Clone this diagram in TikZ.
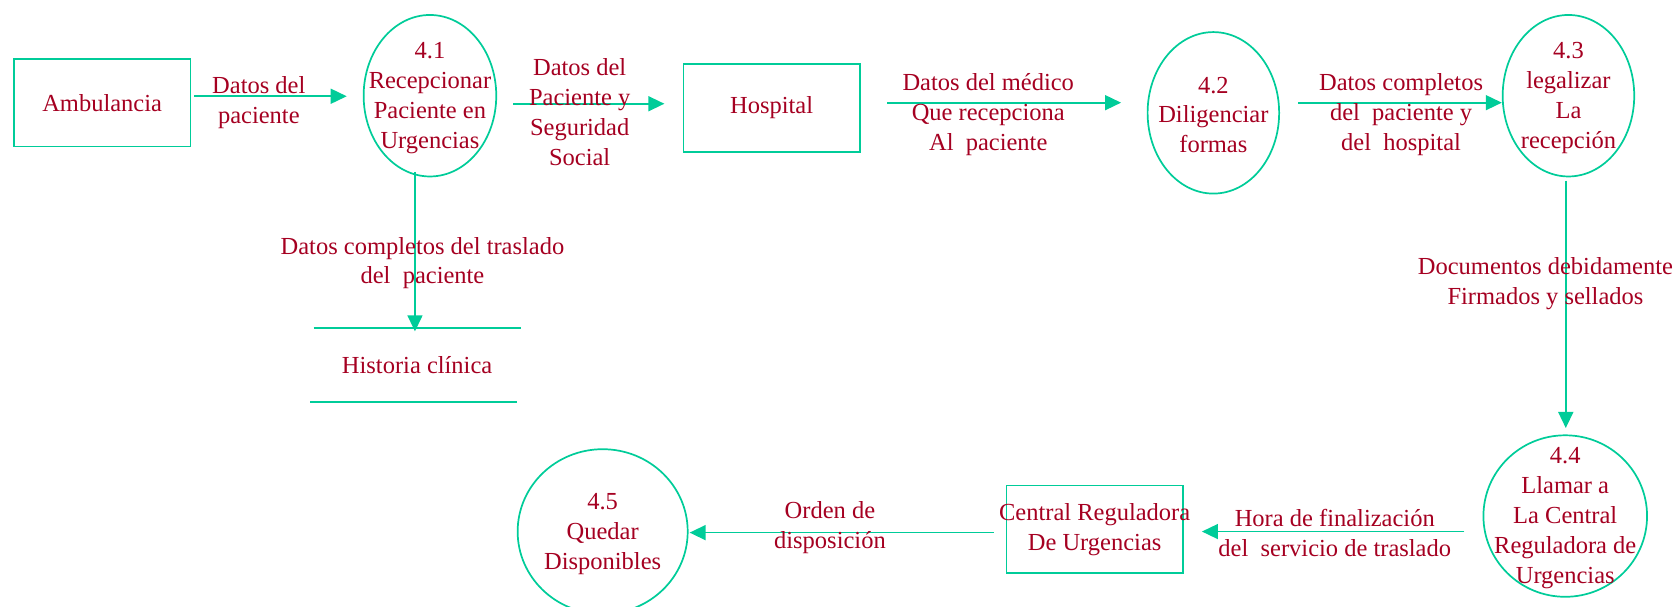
\documentclass[tikz,border=0pt]{standalone}
\usepackage{fontspec}
\setmainfont{Liberation Serif}
\usetikzlibrary{arrows.meta,calc,shapes.geometric}
\definecolor{linea}{RGB}{0,204,153}
\definecolor{texto}{RGB}{165,0,33}
\tikzset{
  entidad/.style={draw=linea,line width=1.6pt,minimum height=82pt,minimum width=165pt,inner sep=0pt,text=texto,align=center},
  proceso/.style={ellipse,draw=linea,line width=1.6pt,inner sep=0pt},
  etiqueta/.style={text=texto,align=center,inner sep=0pt,yshift=-2pt},
  flujo/.style={draw=linea,line width=1.6pt,-{Triangle[length=15pt,width=14pt]}}
}
\begin{document}
\begin{tikzpicture}[x=1pt,y=-1pt,font=\fontsize{22.9}{28}\selectfont]
            \useasboundingbox (0,0) rectangle (1568,567);

            \node[entidad] (amb) at (95.5,96) {Ambulancia};
            \node[proceso,minimum width=124pt,minimum height=151pt,label={[etiqueta]center:{4.1\\Recepcionar\\Paciente en\\Urgencias}}] (p41) at (402,89.5) {};
            \node[entidad] (hosp) at (721.5,101) {Hospital};
            \node[proceso,minimum width=123pt,minimum height=151pt,label={[etiqueta]center:{4.2\\Diligenciar\\formas}}] (p42) at (1134.5,105.5) {};
            \node[proceso,minimum width=123pt,minimum height=151pt,label={[etiqueta]center:{4.3\\legalizar\\La\\recepción}}] (p43) at (1466.5,89.5) {};
            \node[proceso,minimum width=153pt,minimum height=151pt,label={[etiqueta]center:{4.4\\Llamar a\\La Central\\Reguladora de\\Urgencias}}] (p44) at (1463.5,482.5) {};
            \node[entidad] (central) at (1023.5,495) {\makebox[150pt][c]{Central Reguladora}\\De Urgencias};
            \node[proceso,minimum width=159pt,minimum height=154pt,label={[etiqueta]center:{4.5\\Quedar\\Disponibles}}] (p45) at (563.5,497) {};
            \node[etiqueta,minimum width=193pt,minimum height=69pt,yshift=2pt] (hist) at (390,341.5) {Historia clínica};

            \draw[linea,line width=1.6pt] (hist.north west) -- (hist.north east);
            \draw[linea,line width=1.6pt] ($(hist.south west)+(-3,0)$) -- ($(hist.south east)+(-3,0)$);

            \draw[flujo] ($(amb.east)+(3,-6)$) -- ($(p41.west)+(-15,0.5)$);
            \draw[flujo] ($(p41.east)+(15,7.5)$) -- ($(hosp.west)+(-17,-4)$);
            \draw[flujo] ($(hosp.east)+(25,-5)$) -- ($(p42.west)+(-24,-9.5)$);
            \draw[flujo] ($(p42.east)+(17,-9.5)$) -- ($(p43.west)+(0,6.5)$);
            \draw[flujo] ($(p43.south)+(-2.5,3)$) -- ($(p44.north)+(0.5,-6)$);
            \draw[flujo] ($(p44.west)+(-17,14.5)$) -- ($(central.east)+(17,2)$);
            \draw[flujo] ($(central.west)+(-11,3)$) -- ($(p45.east)+(1,1)$);
            \draw[flujo] ($(p41.south)+(-14,-5)$) -- ($(hist.north)+(-2,3)$);

            \node[etiqueta] (l1) at (242,94) {Datos del\\paciente};
            \node[etiqueta] (l2) at (542,103) {Datos del\\Paciente y\\Seguridad\\Social};
            \node[etiqueta] (l3) at (924,105) {Datos del médico\\Que recepciona\\Al\ \ paciente};
            \node[etiqueta] (l4) at (1310,105) {Datos completos\\del\ \ paciente y\\del\ \ hospital};
            \node[etiqueta] (l5) at (1445,263) {Documentos debidamente\\Firmados y sellados};
            \node[etiqueta] (l6) at (1248,496) {Hora de finalización\\del\ \ servicio de traslado};
            \node[etiqueta] (l7) at (776,491) {Orden de\\disposición};
            \node[etiqueta] (l8) at (395,244) {Datos completos del traslado\\del\ \ paciente};
        \end{tikzpicture}
\end{document}
